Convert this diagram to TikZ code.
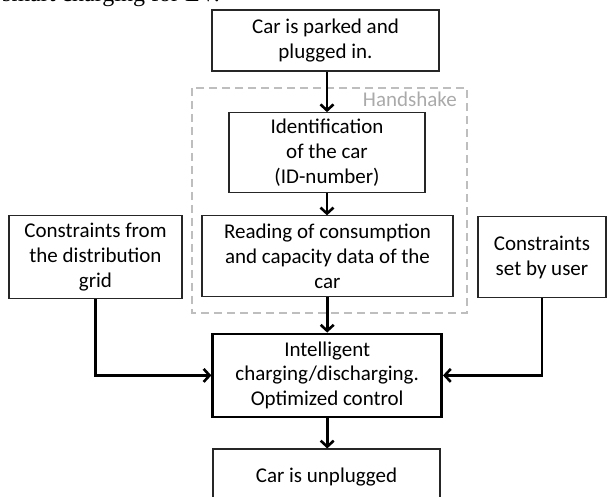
\documentclass[tikz,border=0pt]{standalone}
\usepackage{fontspec}
\setmainfont{Carlito}
\newfontfamily\serifcut{Liberation Serif}
\usetikzlibrary{arrows.meta}
\definecolor{dashgray}{RGB}{190,190,190}
\definecolor{labelgray}{RGB}{170,170,170}
\begin{document}
\begin{tikzpicture}[x=1pt,y=-1pt,
  box/.style={draw=black!85, line width=1.1pt, fill=white, align=center, inner sep=0pt,
    font=\fontsize{21}{25}\selectfont},
  mainbox/.style={box, draw=black, line width=2.6pt},
  conn/.style={line width=2.6pt, -{Straight Barb[length=6pt,width=13pt,line width=2.6pt]}},
  frame/.style={draw=dashgray, line width=1.6pt, dash pattern=on 8pt off 5pt}]
\useasboundingbox (0,0) rectangle (608,497);
\begin{scope}
\clip (0,0) rectangle (608,497);
\node[anchor=base west, inner sep=0pt, font=\serifcut\fontsize{24}{28}\selectfont] (cut) at (2,2) {smart charging for EV.};
\node[box, minimum width=227pt, minimum height=61pt] (park) at (325.5,40.5) {Car is parked and\\plugged in.};
\draw[frame] (192,88) rectangle (467,313);
\node[anchor=base east, inner sep=0pt, text=labelgray, font=\fontsize{21}{25}\selectfont] (hs) at (457,107) {Handshake};
\node[box, minimum width=196pt, minimum height=80pt] (ident) at (327,152.7) {Identification\\of the car\\(ID-number)};
\node[box, minimum width=251pt, minimum height=81pt] (read) at (327.5,256.4) {Reading of consumption\\and capacity data of the\\car};
\node[box, minimum width=173pt, minimum height=83pt] (grid) at (95.5,257.3) {Constraints from\\the distribution\\grid};
\node[box, minimum width=128pt, minimum height=81pt] (user) at (542,257.3) {Constraints\\set by user};
\node[mainbox, minimum width=229pt, minimum height=83pt] (ctrl) at (327.2,375.4) {Intelligent\\charging/discharging.\\Optimized control};
\node[box, minimum width=227pt, minimum height=56pt] (unpl) at (326.5,477) {Car is unplugged};
\draw[conn] (park.south -| ident.north) -- (ident.north);
\draw[conn] (ident.south) -- (read.north -| ident.south);
\draw[conn] (read.south -| ctrl.north) -- (ctrl.north);
\draw[conn] (ctrl.south) -- (unpl.north -| ctrl.south);
\draw[conn] (grid.south) |- (ctrl.west);
\draw[conn] (user.south) |- (ctrl.east);
\end{scope}
\end{tikzpicture}
\end{document}
